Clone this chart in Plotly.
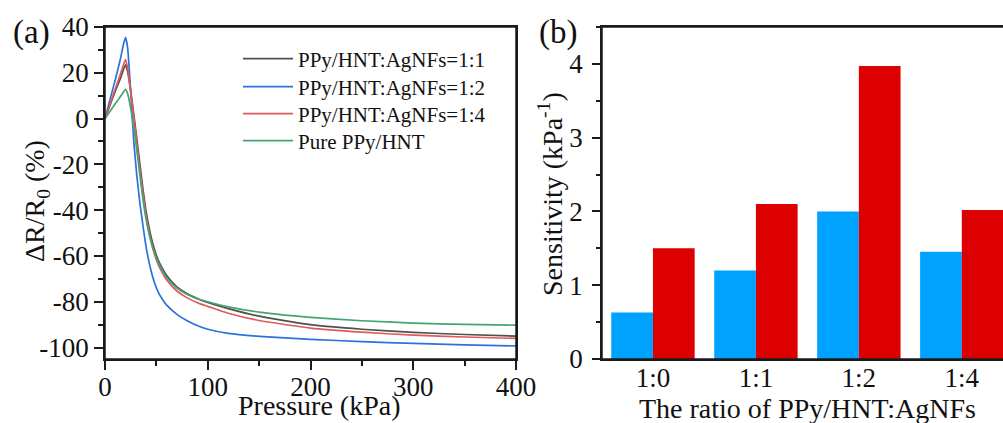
import plotly.graph_objects as go

# ---------------- data: panel (a) ----------------
pressure = [0, 5, 10, 15, 18, 20, 22, 25, 28, 31, 34, 37, 40, 44, 48, 52, 56, 60,
            70, 80, 92, 100, 120, 150, 200, 250, 300, 350, 400]
ratio_1_1 = [0, 6, 12, 17.5, 21.5, 23.5, 20.5, 12, 2, -9, -20, -31, -40.5, -50, -57, -62,
             -65.5, -68.5, -73.5, -76.5, -79, -80.3, -83, -86.3, -90, -92, -93.4, -94.3, -95]
ratio_1_2 = [0, 8.5, 17, 26, 32.5, 35.5, 31, 12, -10, -25, -37, -47, -56, -65, -71.5, -76,
             -79, -81.5, -85.5, -88.3, -90.8, -92, -93.8, -95.1, -96.4, -97.4, -98.2, -98.8, -99.3]
ratio_1_4 = [0, 6.5, 13, 19.5, 23.5, 25.8, 22, 12, 0.5, -11, -22.5, -33, -42.5, -52, -59, -64,
             -67.5, -70.5, -75.3, -78.3, -80.8, -82, -85, -88.2, -91.5, -93.3, -94.6, -95.4, -96]
pure_ppy = [0, 3.2, 6.5, 9.6, 11.6, 12.8, 11, 4.5, -4, -14, -25, -35.5, -44, -52.5, -58.5, -63,
            -66.5, -69.5, -74, -76.8, -79, -80, -82.2, -84.5, -86.8, -88.3, -89.3, -89.9, -90.2]
series_names = ["PPy/HNT:AgNFs=1:1", "PPy/HNT:AgNFs=1:2", "PPy/HNT:AgNFs=1:4", "Pure PPy/HNT"]

# ---------------- data: panel (b) ----------------
categories = ["1:0", "1:1", "1:2", "1:4"]
sens_low = [0.63, 1.20, 2.00, 1.455]
sens_high = [1.50, 2.10, 3.97, 2.02]

a_yticks = [-100, -80, -60, -40, -20, 0, 20, 40]
a_yticktext = ["-100", "-80", "-60", "-40", "-20", "0", "20", "40"]
a_xticks = [0, 100, 200, 300, 400]
b_yticks = [0, 1, 2, 3, 4]

W, H = 1003, 423
FONT = "Liberation Serif"
AX = "#1a1a1a"

fig = go.Figure()
line_colors = ["#505050", "#2a72dc", "#e05a5a", "#45a572"]
legend_ids = ["legend", "legend2", "legend3", "legend4"]
for name, ys, c, lg in zip(series_names, [ratio_1_1, ratio_1_2, ratio_1_4, pure_ppy],
                           line_colors, legend_ids):
    fig.add_trace(go.Scatter(x=pressure, y=ys, mode="lines", name=name, legend=lg,
                             line=dict(color=c, width=1.7, shape="spline", smoothing=0.5),
                             xaxis="x", yaxis="y"))

fig.add_trace(go.Bar(x=categories, y=sens_low, marker=dict(color="#00a2ff", line=dict(width=0)),
                     showlegend=False, xaxis="x2", yaxis="y2"))
fig.add_trace(go.Bar(x=categories, y=sens_high, marker=dict(color="#dd0000", line=dict(width=0)),
                     showlegend=False, xaxis="x2", yaxis="y2"))

tickfont = dict(family=FONT, size=27, color="#111")
ydom = [64 / H, 396 / H]

common = dict(showgrid=False, zeroline=False, automargin=False, tickfont=tickfont,
              showline=True, linecolor=AX, linewidth=1.5, layer="above traces")

legend_rows = [59, 87, 114, 141]
legends = {}
for lg, row in zip(legend_ids, legend_rows):
    legends[lg] = dict(x=238 / W, xanchor="left", y=1 - row / H, yanchor="middle",
                       font=dict(family=FONT, size=21, color="#111"),
                       bgcolor="rgba(0,0,0,0)", borderwidth=0, itemwidth=50)

fig.update_layout(
    template="none",
    width=W, height=H,
    margin=dict(l=0, r=0, t=0, b=0, autoexpand=False),
    paper_bgcolor="white", plot_bgcolor="white",
    barmode="group", bargap=0.19, bargroupgap=0,
    font=dict(family=FONT, color="#111"),
    xaxis=dict(domain=[105 / W, 516 / W], range=[0, 400], tickvals=a_xticks,
               ticks="outside", ticklen=9, tickwidth=1.5, tickcolor=AX, ticklabelstandoff=-6,
               minor=dict(tick0=0, dtick=50, ticks="outside", ticklen=5, tickwidth=1.5, tickcolor=AX),
               mirror=True, anchor="y", **common),
    yaxis=dict(domain=ydom, range=[-105, 40], tickvals=a_yticks, ticktext=a_yticktext,
               ticks="outside", ticklen=9, tickwidth=1.5, tickcolor=AX,
               minor=dict(tick0=0, dtick=10, ticks="outside", ticklen=5, tickwidth=1.5, tickcolor=AX),
               mirror=True, anchor="x", **common),
    xaxis2=dict(domain=[602 / W, 1.0], range=[-0.495, 3.4], type="category",
                ticks="", ticklabelstandoff=-6, mirror=True, anchor="y2", **common),
    yaxis2=dict(domain=ydom, range=[0, 4.5], tickvals=b_yticks,
                ticks="outside", ticklen=8, tickwidth=1.5, tickcolor=AX, ticklabelstandoff=4,
                minor=dict(tick0=0, dtick=0.5, ticks="outside", ticklen=4, tickwidth=1.5, tickcolor=AX),
                mirror=False, anchor="x2", **common),
    showlegend=True,
    **legends,
)

# plot frames (spines) drawn on the axes' own domains
frame = dict(line=dict(color=AX, width=1.5), layer="above")
fig.add_shape(type="rect", xref="x domain", yref="y domain", x0=0, x1=1, y0=0, y1=1, **frame)
fig.add_shape(type="line", xref="x2 domain", yref="y2 domain", x0=0, x1=0, y0=0, y1=1, **frame)
fig.add_shape(type="line", xref="x2 domain", yref="y2 domain", x0=0, x1=1, y0=0, y1=0, **frame)
fig.add_shape(type="line", xref="x2 domain", yref="y2 domain", x0=0, x1=1, y0=1, y1=1, **frame)

ann = [
    dict(text="(a)", x=31 / W, y=1 - 32 / H, font=dict(size=33)),
    dict(text="(b)", x=558 / W, y=1 - 32 / H, font=dict(size=33)),
    dict(text="Pressure (kPa)", x=319 / W, y=1 - 405 / H, font=dict(size=28)),
    dict(text="The ratio of PPy/HNT:AgNFs", x=807 / W, y=1 - 408 / H, font=dict(size=28)),
    dict(text="ΔR/R<sub>0</sub> (%)", x=36 / W, y=1 - 201 / H, textangle=-90, font=dict(size=28)),
    dict(text="Sensitivity (kPa<sup>-1</sup>)", x=550 / W, y=1 - 194 / H, textangle=-90, font=dict(size=28)),
]
for a in ann:
    a.update(xref="paper", yref="paper", showarrow=False, xanchor="center", yanchor="middle")
    a["font"].update(family=FONT, color="#111")
fig.update_layout(annotations=ann)

fig.write_html("out.html")
